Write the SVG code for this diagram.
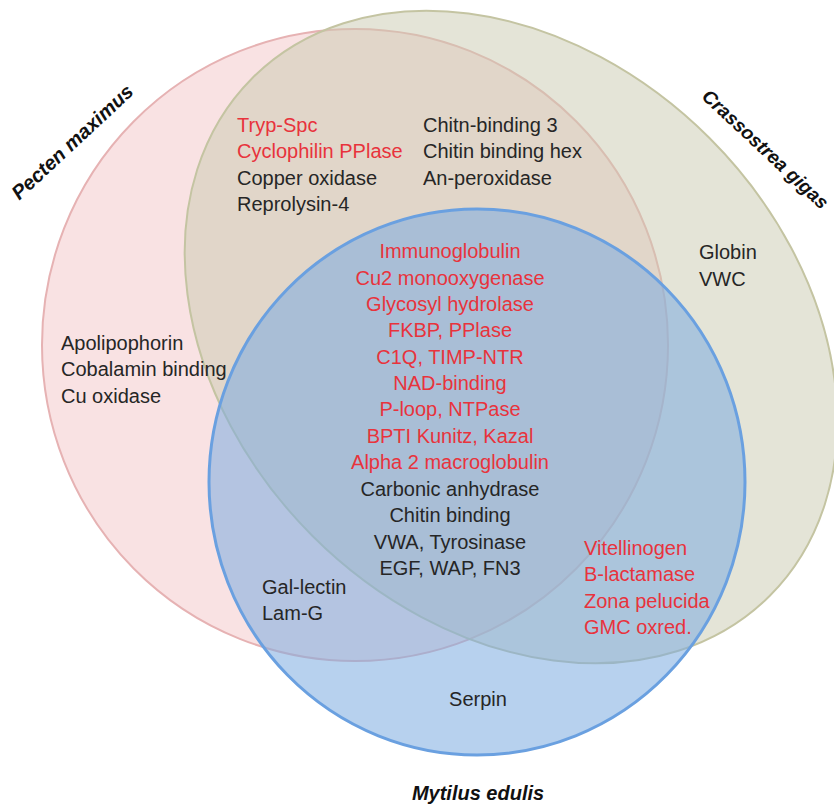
<svg xmlns="http://www.w3.org/2000/svg" width="834" height="805" viewBox="0 0 834 805">
<style>
text{font-family:"Liberation Sans",Arial,Helvetica,sans-serif;font-size:20px;fill:#262626}
.r{fill:#e8333c}
.sp{font-weight:bold;font-style:italic;fill:#111}
.m{text-anchor:middle}
</style>
<rect width="834" height="805" fill="#fff"/>
<g id="pecten-maximus">
<ellipse cx="355" cy="345" rx="313" ry="316" fill="#e88d8f" fill-opacity="0.25" stroke="#e6b2b3" stroke-width="2"/>
</g>
<g id="crassostrea-gigas">
<ellipse cx="0" cy="0" rx="366" ry="281" transform="translate(511 337) rotate(45)" fill="#c9c9af" fill-opacity="0.5" stroke="#c4c4a2" stroke-width="2"/>
</g>
<g id="mytilus-edulis">
<ellipse cx="477" cy="482" rx="268" ry="273" fill="#7cabe0" fill-opacity="0.55" stroke="#6aa0e0" stroke-width="3"/>
</g>
<g id="set-labels">
<text class="sp m" transform="translate(77 147) rotate(-43)">Pecten maximus</text>
<text class="sp m" style="font-size:19px" transform="translate(761 154) rotate(43)">Crassostrea gigas</text>
<text class="sp m" x="478" y="800">Mytilus edulis</text>
</g>
<g id="pecten-crassostrea">
<text x="237" y="132" class="r">Tryp-Spc</text>
<text x="237" y="158" class="r">Cyclophilin PPlase</text>
<text x="237" y="185">Copper oxidase</text>
<text x="237" y="211">Reprolysin-4</text>
<text x="423" y="132">Chitn-binding 3</text>
<text x="423" y="158">Chitin binding hex</text>
<text x="423" y="185">An-peroxidase</text>
</g>
<g id="crassostrea-only">
<text x="699" y="259">Globin</text>
<text x="699" y="286">VWC</text>
</g>
<g id="pecten-only">
<text x="61" y="350">Apolipophorin</text>
<text x="61" y="376">Cobalamin binding</text>
<text x="61" y="403">Cu oxidase</text>
</g>
<g id="all-three" class="m">
<text x="450" y="258" class="r m">Immunoglobulin</text>
<text x="450" y="285" class="r m">Cu2 monooxygenase</text>
<text x="450" y="311" class="r m">Glycosyl hydrolase</text>
<text x="450" y="337" class="r m">FKBP, PPlase</text>
<text x="450" y="364" class="r m">C1Q, TIMP-NTR</text>
<text x="450" y="390" class="r m">NAD-binding</text>
<text x="450" y="416" class="r m">P-loop, NTPase</text>
<text x="450" y="443" class="r m">BPTI Kunitz, Kazal</text>
<text x="450" y="469" class="r m">Alpha 2 macroglobulin</text>
<text x="450" y="496" class="m">Carbonic anhydrase</text>
<text x="450" y="522" class="m">Chitin binding</text>
<text x="450" y="549" class="m">VWA, Tyrosinase</text>
<text x="450" y="575" class="m">EGF, WAP, FN3</text>
</g>
<g id="pecten-mytilus">
<text x="262" y="594">Gal-lectin</text>
<text x="262" y="620">Lam-G</text>
</g>
<g id="crassostrea-mytilus">
<text x="584" y="555" class="r">Vitellinogen</text>
<text x="584" y="581" class="r">B-lactamase</text>
<text x="584" y="608" class="r">Zona pelucida</text>
<text x="584" y="634" class="r">GMC oxred.</text>
</g>
<g id="mytilus-only">
<text x="478" y="706" class="m">Serpin</text>
</g>
</svg>
